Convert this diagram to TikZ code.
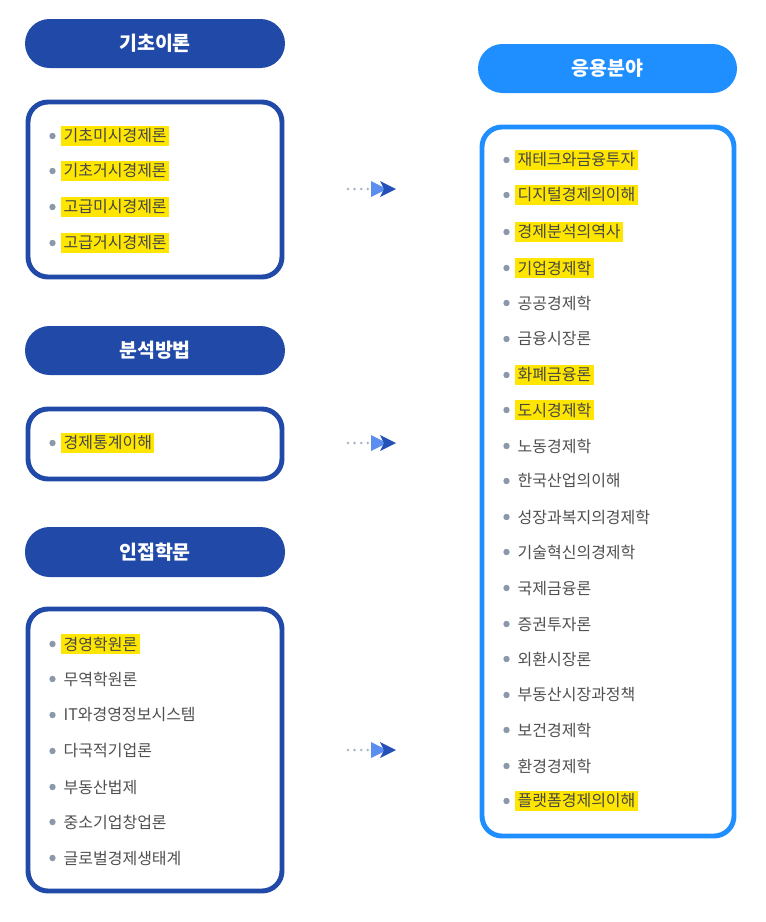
\documentclass[tikz,border=0pt]{standalone}
\usepackage{fontspec}
\setmainfont{Noto Sans CJK KR}
\definecolor{navy}{HTML}{2049A8}
\definecolor{sky}{HTML}{1F8FFF}
\definecolor{txt}{HTML}{505050}
\definecolor{bul}{HTML}{8A98AA}
\definecolor{hly}{HTML}{FFE600}
\definecolor{arlight}{HTML}{5C8EF0}
\definecolor{ardark}{HTML}{2450B8}
\definecolor{dotc}{HTML}{A8B4C4}
\tikzset{
  pill/.style={text=white,font=\fontsize{14.6}{17}\selectfont\bfseries,inner sep=0pt},
  pillbg/.style={rounded corners=18.4pt},
  frame/.style={rounded corners=15pt,line width=3.7pt,fill=white},
  item/.style={anchor=west,text=txt,font=\fontsize{12}{14}\selectfont,inner xsep=1.8pt,inner ysep=2.2pt},
  hl/.style={item,fill=hly,text=black!72},
  dotline/.style={dotc,line width=2.1pt,dash pattern=on 0pt off 4.95pt,line cap=round},
}
\begin{document}
\begin{tikzpicture}[x=0.75pt,y=-0.75pt]
\useasboundingbox[fill=white] (0,0) rectangle (766,922);
% left headers
\fill[navy,pillbg] (25,19) rectangle (285,68);
\node[pill] (h1) at (155,43.5) {기초이론};
\fill[navy,pillbg] (25,326) rectangle (285,375);
\node[pill] (h2) at (155,350.5) {분석방법};
\fill[navy,pillbg] (25,527) rectangle (285,577);
\node[pill] (h3) at (155,552) {인접학문};
\fill[sky,pillbg] (478,44) rectangle (737,93);
\node[pill] (h4) at (607.5,68.5) {응용분야};
% frames
\draw[frame,draw=navy] (28,102) rectangle (282,277);
\draw[frame,draw=navy] (28,409) rectangle (282,479);
\draw[frame,draw=navy] (28,609) rectangle (282,891);
\draw[frame,draw=sky] (482,127) rectangle (734,836);
% left items
\foreach \t/\y/\s [count=\i] in {기초미시경제론/136/hl,기초거시경제론/171/hl,고급미시경제론/207/hl,고급거시경제론/243/hl,경제통계이해/443/hl,경영학원론/644/hl,무역학원론/679/item,IT와경영정보시스템/715/item,다국적기업론/751/item,부동산법제/787/item,중소기업창업론/822/item,글로벌경제생태계/858/item}{
  \fill[bul] (52.5,\y) circle (3.2);
  \node[\s] (L\i) at (61,\y) {\t};
}
% right items
\foreach \t/\y/\s [count=\i] in {재테크와금융투자/160/hl,디지털경제의이해/195/hl,경제분석의역사/232/hl,기업경제학/268/hl,공공경제학/303/item,금융시장론/339/item,화폐금융론/375/hl,도시경제학/410/hl,노동경제학/446/item,한국산업의이해/481/item,성장과복지의경제학/517/item,기술혁신의경제학/552/item,국제금융론/588/item,증권투자론/624/item,외환시장론/659/item,부동산시장과정책/695/item,보건경제학/730/item,환경경제학/766/item,플랫폼경제의이해/801/hl}{
  \fill[bul] (506.5,\y) circle (3.2);
  \node[\s] (R\i) at (515,\y) {\t};
}
% arrows
\foreach \y [count=\i] in {189,443,750}{
  \coordinate (a\i) at (348,\y);
  \coordinate (b\i) at (368,\y);
  \draw[dotline] (a\i) -- (b\i);
  \fill[arlight] (371,\y-8) -- (387,\y) -- (371,\y+8) -- cycle;
  \fill[ardark] (380,\y-8) -- (396,\y) -- (380,\y+8) -- (384,\y) -- cycle;
}
\end{tikzpicture}
\end{document}
